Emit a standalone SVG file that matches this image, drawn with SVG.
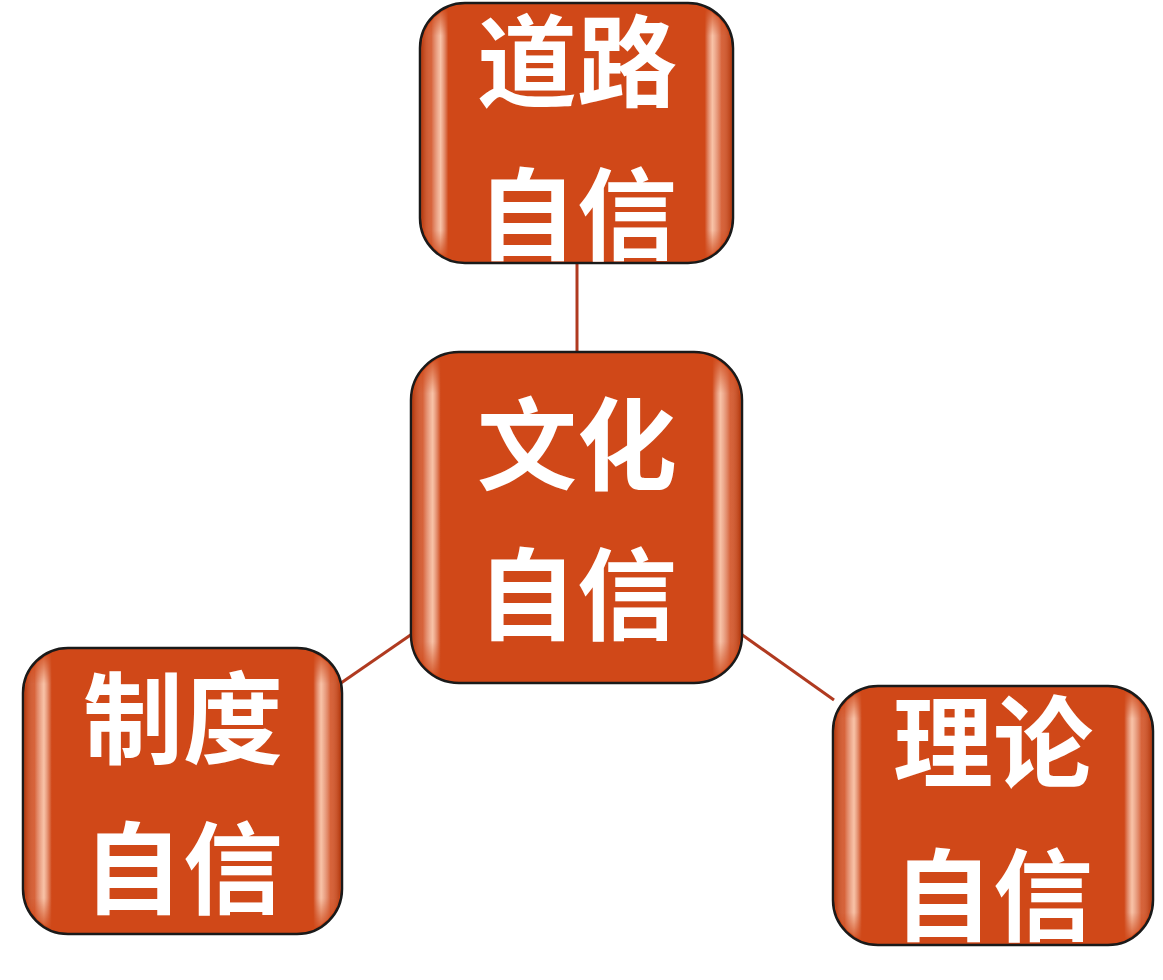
<svg xmlns="http://www.w3.org/2000/svg" width="1163" height="980" viewBox="0 0 1163 980">
<defs>
<linearGradient id="gloss" x1="0" y1="0" x2="1" y2="0">
<stop offset="0" stop-color="#8a2a08" stop-opacity="0.35"/>
<stop offset="0.03" stop-color="#ffffff" stop-opacity="0.15"/>
<stop offset="0.06" stop-color="#ffd8c0" stop-opacity="0.85"/>
<stop offset="0.085" stop-color="#ffffff" stop-opacity="0"/>
<stop offset="0.915" stop-color="#ffffff" stop-opacity="0"/>
<stop offset="0.94" stop-color="#ffd8c0" stop-opacity="0.85"/>
<stop offset="0.97" stop-color="#ffffff" stop-opacity="0.15"/>
<stop offset="1" stop-color="#8a2a08" stop-opacity="0.35"/>
</linearGradient>
<linearGradient id="fade" x1="0" y1="0" x2="0" y2="1">
<stop offset="0" stop-color="#fff" stop-opacity="0"/>
<stop offset="0.12" stop-color="#fff" stop-opacity="1"/>
<stop offset="0.88" stop-color="#fff" stop-opacity="1"/>
<stop offset="1" stop-color="#fff" stop-opacity="0"/>
</linearGradient>
<mask id="m" maskContentUnits="objectBoundingBox">
<rect x="0" y="0" width="1" height="1" fill="url(#fade)"/>
</mask>
</defs>
<style>
.box{fill:#d04818;stroke:#1a1a1a;stroke-width:2.5}
.gl{fill:url(#gloss);mask:url(#m)}
.t{font-family:"Noto Sans CJK SC","Noto Sans CJK JP",sans-serif;font-weight:700;font-size:100px;fill:#ffffff;text-anchor:middle;dominant-baseline:central}
.c{stroke:#b03a20;stroke-width:3;fill:none}
</style>
<g id="connectors">
<line class="c" x1="577" y1="263" x2="577" y2="353"/>
<line class="c" x1="412" y1="634" x2="341" y2="683"/>
<line class="c" x1="741" y1="634" x2="834" y2="700"/>
</g>
<g id="n-top">
<rect class="box" x="420" y="3" width="313" height="260" rx="45"/>
<rect class="gl" x="422" y="5" width="309" height="256" rx="43"/>
<text class="t" x="577" y="55">道路</text>
<text class="t" x="577" y="208">自信</text>
</g>
<g id="n-center">
<rect class="box" x="411" y="352" width="331" height="331" rx="48"/>
<rect class="gl" x="413" y="354" width="327" height="327" rx="46"/>
<text class="t" x="577" y="438">文化</text>
<text class="t" x="577" y="588">自信</text>
</g>
<g id="n-left">
<rect class="box" x="23" y="648" width="319" height="286" rx="45"/>
<rect class="gl" x="25" y="650" width="315" height="282" rx="43"/>
<text class="t" x="183" y="712">制度</text>
<text class="t" x="183" y="862">自信</text>
</g>
<g id="n-right">
<rect class="box" x="833" y="686" width="320" height="259" rx="45"/>
<rect class="gl" x="835" y="688" width="316" height="255" rx="43"/>
<text class="t" x="993" y="736">理论</text>
<text class="t" x="993" y="889">自信</text>
</g>
</svg>
